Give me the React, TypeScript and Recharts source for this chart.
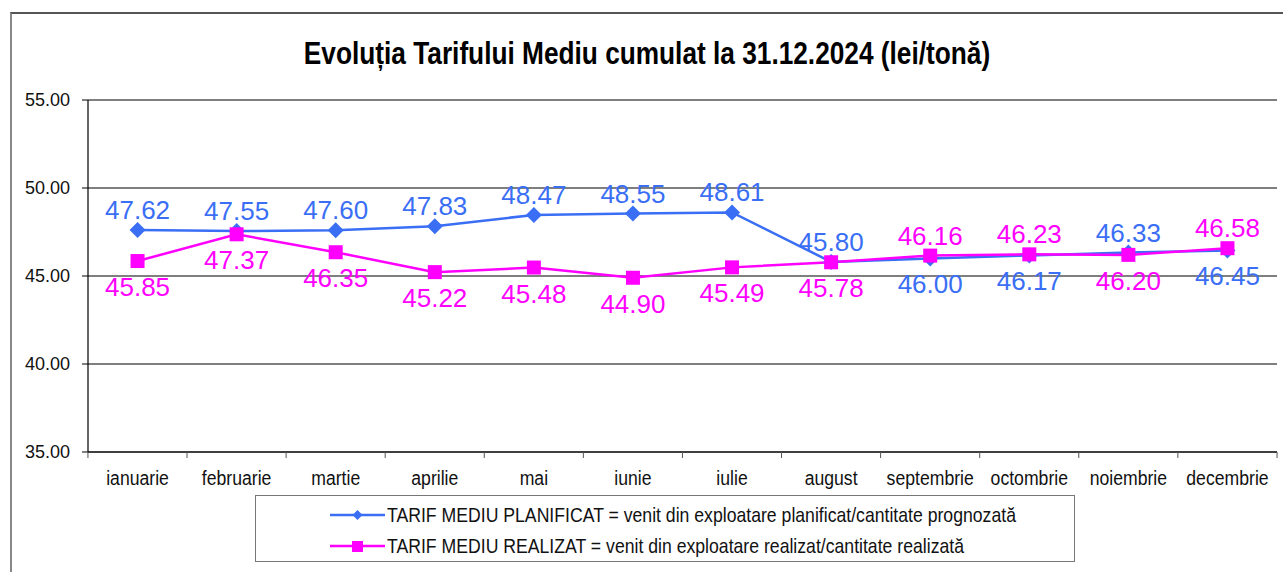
import React from 'react';
import { LineChart, Line, XAxis, YAxis, CartesianGrid, LabelList, Legend } from 'recharts';

const months = [
  'ianuarie', 'februarie', 'martie', 'aprilie', 'mai', 'iunie',
  'iulie', 'august', 'septembrie', 'octombrie', 'noiembrie', 'decembrie',
];
const planificat = [47.62, 47.55, 47.6, 47.83, 48.47, 48.55, 48.61, 45.8, 46.0, 46.17, 46.33, 46.45];
const realizat = [45.85, 47.37, 46.35, 45.22, 45.48, 44.9, 45.49, 45.78, 46.16, 46.23, 46.2, 46.58];
const yTicks = [35, 40, 45, 50, 55];

// where each value label sits relative to its point
const planLabelSide = ['up', 'up', 'up', 'up', 'up', 'up', 'up', 'up', 'down', 'down', 'up', 'down'];
const realLabelSide = ['down', 'down', 'down', 'down', 'down', 'down', 'down', 'down', 'up', 'up', 'down', 'up'];

const BLUE = '#3A6EF5';
const PINK = '#FF00FF';
const SANS = '"Liberation Sans", Arial, sans-serif';

const chartData = months.map((m, i) => ({ month: m, plan: planificat[i], real: realizat[i] }));

const makeLabel = (sides: string[], color: string) => (props: any) => {
  const { x, y, index, value } = props;
  const up = sides[index] === 'up';
  return (
    <text
      x={x}
      y={up ? y - 11 : y + 35}
      textAnchor="middle"
      fill={color}
      fontSize={26}
      fontFamily={SANS}
    >
      {Number(value).toFixed(2)}
    </text>
  );
};

const MonthTick = (props: any) => {
  const { x, y, payload, index } = props;
  const half = 49.6;
  return (
    <g>
      <line x1={x - half} y1={y} x2={x - half} y2={y + 6} stroke="#555" />
      {index === months.length - 1 && (
        <line x1={x + half} y1={y} x2={x + half} y2={y + 6} stroke="#555" />
      )}
      <text
        transform={`translate(${x},${y + 33}) scale(0.84,1)`}
        textAnchor="middle"
        fill="#111"
        fontSize={21}
        fontFamily={SANS}
      >
        {payload.value}
      </text>
    </g>
  );
};

const Diamond = (props: any) => {
  const { cx, cy } = props;
  if (cx == null || cy == null) return null;
  return <path d={`M${cx},${cy - 8}L${cx + 8},${cy}L${cx},${cy + 8}L${cx - 8},${cy}Z`} fill={BLUE} />;
};

const Square = (props: any) => {
  const { cx, cy } = props;
  if (cx == null || cy == null) return null;
  return <rect x={cx - 7} y={cy - 7} width={14} height={14} fill={PINK} />;
};

const legendText: React.CSSProperties = {
  marginLeft: 2,
  display: 'inline-block',
  transform: 'scaleX(0.84)',
  transformOrigin: 'left center',
  whiteSpace: 'nowrap',
};

const LegendBox = () => (
  <div
    style={{
      marginLeft: 255,
      width: 820,
      height: 67,
      border: '1.5px solid #777',
      boxSizing: 'border-box',
      fontFamily: SANS,
      fontSize: 21,
      color: '#111',
      paddingLeft: 74,
      paddingTop: 3,
      lineHeight: '31px',
      overflow: 'hidden',
    }}
  >
    <div style={{ display: 'flex', alignItems: 'center' }}>
      <svg width={55} height={14} style={{ flexShrink: 0 }}>
        <line x1={0} y1={7} x2={55} y2={7} stroke={BLUE} strokeWidth={2.5} />
        <path d="M27.5,2L32.5,7L27.5,12L22.5,7Z" fill={BLUE} />
      </svg>
      <span style={legendText}>TARIF MEDIU PLANIFICAT = venit din exploatare planificat/cantitate prognozată</span>
    </div>
    <div style={{ display: 'flex', alignItems: 'center' }}>
      <svg width={55} height={14} style={{ flexShrink: 0 }}>
        <line x1={0} y1={7} x2={55} y2={7} stroke={PINK} strokeWidth={2.5} />
        <rect x={22} y={2} width={11} height={11} fill={PINK} />
      </svg>
      <span style={legendText}>TARIF MEDIU REALIZAT = venit din exploatare realizat/cantitate realizată</span>
    </div>
  </div>
);

export default function App() {
  return (
    <div style={{ position: 'absolute', left: 0, top: 0, width: 1283, height: 572, overflow: 'hidden', background: '#fff' }}>
      <div
        style={{
          position: 'absolute',
          left: 10,
          top: 12,
          width: 1273,
          height: 560,
          borderLeft: '2px solid #888',
          borderTop: '2px solid #555',
        }}
      />
      <div
        style={{
          position: 'absolute',
          left: 647,
          top: 35,
          transform: 'translateX(-50%) scaleX(0.82)',
          whiteSpace: 'nowrap',
          fontFamily: SANS,
          fontWeight: 'bold',
          fontSize: 32,
          color: '#000',
        }}
      >
        Evoluția Tarifului Mediu cumulat la 31.12.2024 (lei/tonă)
      </div>
      <div style={{ position: 'absolute', left: 0, top: 0 }}>
        <LineChart width={1283} height={572} data={chartData} margin={{ top: 100, right: 6, bottom: 13, left: 8 }}>
          <CartesianGrid vertical={false} stroke="#000" strokeWidth={1.2} />
          <XAxis
            dataKey="month"
            scale="band"
            tick={<MonthTick />}
            tickLine={false}
            tickSize={0}
            tickMargin={0}
            axisLine={{ stroke: '#000', strokeWidth: 1.2 }}
            height={40}
            interval={0}
          />
          <YAxis
            domain={[35, 55]}
            ticks={yTicks}
            width={80}
            tickFormatter={(v: number) => v.toFixed(2)}
            tick={{ fontSize: 18, fill: '#111', fontFamily: SANS }}
            tickLine={{ stroke: '#000' }}
            tickSize={6}
            tickMargin={12}
            axisLine={{ stroke: '#000', strokeWidth: 1.2 }}
          />
          <Line
            dataKey="plan"
            stroke={BLUE}
            strokeWidth={2.5}
            dot={<Diamond />}
            isAnimationActive={false}
          >
            <LabelList dataKey="plan" content={makeLabel(planLabelSide, BLUE)} />
          </Line>
          <Line
            dataKey="real"
            stroke={PINK}
            strokeWidth={2.5}
            dot={<Square />}
            isAnimationActive={false}
          >
            <LabelList dataKey="real" content={makeLabel(realLabelSide, PINK)} />
          </Line>
          <Legend
            verticalAlign="bottom"
            content={() => <LegendBox />}
            wrapperStyle={{ left: 0, bottom: 10, width: 1283 }}
          />
        </LineChart>
      </div>
    </div>
  );
}
